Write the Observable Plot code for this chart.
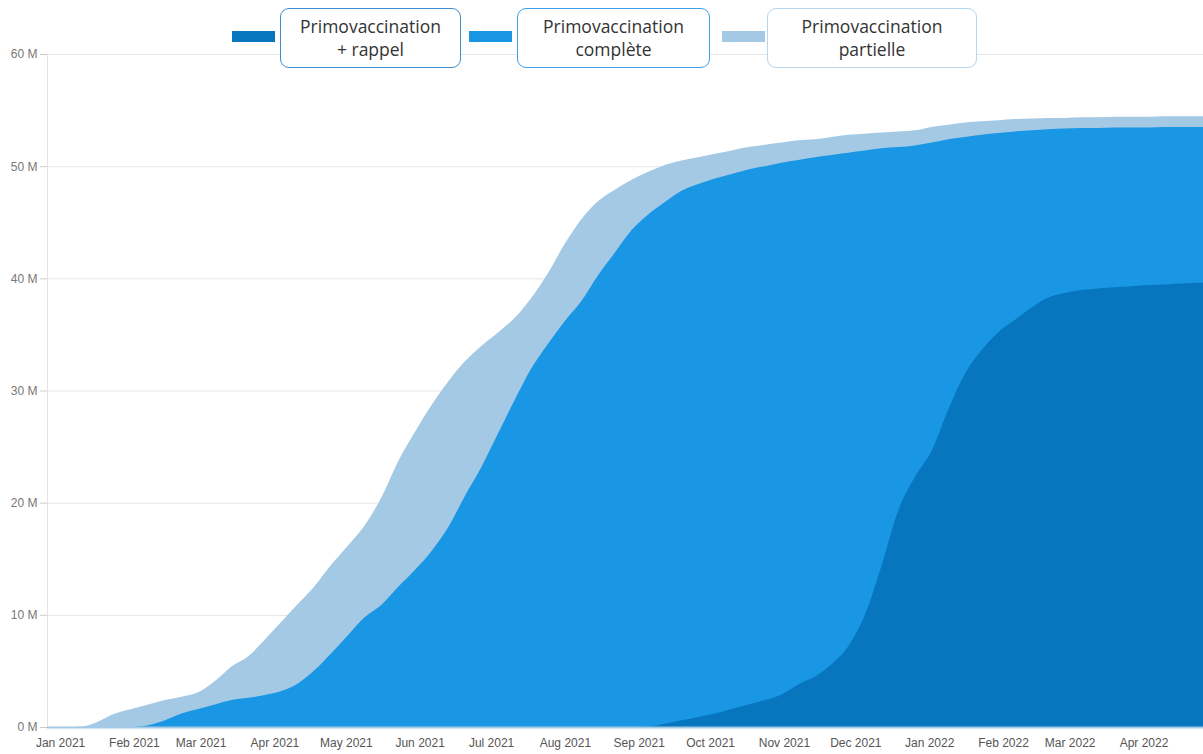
<!DOCTYPE html>
<html><head><meta charset="utf-8">
<script src="https://cdn.jsdelivr.net/npm/d3@7"></script>
<script src="https://cdn.jsdelivr.net/npm/@observablehq/plot@0.6"></script>
<style>
body{margin:0;background:#fff;}
#wrap{position:relative;width:1203px;height:754px;overflow:hidden;}
.sw{position:absolute;top:31px;height:11px;width:43px;}
.box{position:absolute;top:8px;height:60px;border-radius:9px;background:#fff;font-family:"Open Sans",sans-serif;font-size:17.5px;color:#333;text-align:center;display:flex;align-items:center;justify-content:center;line-height:23px;box-sizing:border-box;border:1.6px solid;white-space:pre;}
</style></head>
<body><div id="wrap"></div>
<script>
// Data (values in millions of people)
const dates = ["2020-12-27","2021-01-03","2021-01-10","2021-01-17","2021-01-24","2021-01-31","2021-02-07","2021-02-14","2021-02-21","2021-02-28","2021-03-07","2021-03-14","2021-03-21","2021-03-28","2021-04-04","2021-04-11","2021-04-18","2021-04-25","2021-05-02","2021-05-09","2021-05-16","2021-05-23","2021-05-30","2021-06-06","2021-06-13","2021-06-20","2021-06-27","2021-07-04","2021-07-11","2021-07-18","2021-07-25","2021-08-01","2021-08-08","2021-08-15","2021-08-22","2021-08-29","2021-09-05","2021-09-12","2021-09-19","2021-09-26","2021-10-03","2021-10-10","2021-10-17","2021-10-24","2021-10-31","2021-11-07","2021-11-14","2021-11-21","2021-11-28","2021-12-05","2021-12-12","2021-12-19","2021-12-26","2022-01-02","2022-01-09","2022-01-16","2022-01-23","2022-01-30","2022-02-06","2022-02-13","2022-02-20","2022-02-27","2022-03-06","2022-03-13","2022-03-20","2022-03-27","2022-04-03","2022-04-10","2022-04-17","2022-04-24","2022-04-26"];
const partielle = [0,0,0.05,0.5,1.2,1.6,2.0,2.4,2.7,3.1,4.1,5.4,6.3,7.8,9.4,11.0,12.6,14.5,16.2,18.0,20.5,23.7,26.3,28.7,30.8,32.6,34.0,35.2,36.5,38.3,40.5,43.1,45.3,46.9,47.9,48.8,49.5,50.1,50.5,50.8,51.1,51.4,51.7,51.9,52.1,52.3,52.4,52.6,52.8,52.9,53.0,53.1,53.2,53.5,53.7,53.9,54.0,54.1,54.2,54.25,54.3,54.3,54.35,54.35,54.4,54.4,54.4,54.45,54.45,54.45,54.45];
const complete = [0,0,0,0,0,0,0.15,0.6,1.2,1.6,2.0,2.4,2.6,2.85,3.2,3.9,5.1,6.6,8.2,9.8,10.9,12.5,14.0,15.7,17.8,20.6,23.2,26.2,29.2,32.0,34.2,36.2,38.0,40.3,42.3,44.3,45.7,46.8,47.8,48.4,48.9,49.3,49.7,50.0,50.3,50.55,50.8,51.0,51.2,51.4,51.6,51.7,51.85,52.1,52.4,52.6,52.8,52.95,53.1,53.2,53.3,53.35,53.4,53.4,53.45,53.45,53.45,53.5,53.5,53.5,53.5];
const rappel = [0,0,0,0,0,0,0,0,0,0,0,0,0,0,0,0,0,0,0,0,0,0,0,0,0,0,0,0,0,0,0,0,0,0,0,0,0.05,0.3,0.6,0.9,1.2,1.6,2.0,2.4,2.9,3.8,4.5,5.6,7.2,10.0,14.4,19.3,22.3,24.6,28.3,31.5,33.6,35.2,36.3,37.4,38.3,38.7,38.95,39.1,39.2,39.3,39.4,39.45,39.55,39.6,39.6];
const seriesLabels = ["Primovaccination\n+ rappel", "Primovaccination\ncomplète", "Primovaccination\npartielle"];
const seriesColors = ["#0776be", "#1996e4", "#a3c9e5"];
const borderColors = ["#3b8cd0", "#3aa2ea", "#b4d6ef"];
const yTicks = [0,10,20,30,40,50,60];

const table = dates.map((d,i)=>({date:new Date(d), rappel:rappel[i], complete:complete[i], partielle:partielle[i]}));
const x0 = new Date("2020-12-26T12:00Z"), x1 = new Date("2022-04-26T00:00Z");

const chart = Plot.plot({
  width:1203, height:754,
  marginLeft:47, marginRight:0, marginTop:54, marginBottom:27,
  style:{fontFamily:"'Liberation Sans', Arial, sans-serif", fontSize:"12px", color:"#666", background:"#fff"},
  x:{type:"utc", domain:[x0,x1]},
  y:{domain:[0,60]},
  marks:[
    Plot.gridY(yTicks, {stroke:"#e6e6e6", strokeOpacity:1}),
    Plot.ruleX([x0], {stroke:"#e3e3e3"}),
    Plot.areaY(table, {x:"date", y:"partielle", fill:seriesColors[2], curve:"monotone-x"}),
    Plot.areaY(table, {x:"date", y:"complete", fill:seriesColors[1], curve:"monotone-x"}),
    Plot.areaY(table, {x:"date", y:"rappel", fill:seriesColors[0], curve:"monotone-x"}),
    Plot.ruleY([0], {stroke:"#a3c9e5", strokeWidth:2}),
    Plot.axisY(yTicks, {tickFormat:d=>`${d} M`, tickSize:7, tickPadding:3, stroke:"#cccccc", fill:"#777", label:null}),
    Plot.axisX({ticks:d3.utcMonth.every(1), tickFormat:d3.utcFormat("%b %Y"), tickSize:0, tickPadding:11, fill:"#555", label:null})
  ]
});
const wrap = document.getElementById("wrap");
wrap.appendChild(chart);

// Legend overlay
const layout = [{sw:232, left:280, w:181},{sw:469, left:517, w:193},{sw:722, left:767, w:210}];
seriesLabels.forEach((lab,i)=>{
  const s = document.createElement("div");
  s.className="sw"; s.style.left=layout[i].sw+"px"; s.style.background=seriesColors[i];
  wrap.appendChild(s);
  const b = document.createElement("div");
  b.className="box"; b.style.left=layout[i].left+"px"; b.style.width=layout[i].w+"px";
  b.style.borderColor=borderColors[i]; b.textContent=lab;
  wrap.appendChild(b);
});
</script></body></html>
